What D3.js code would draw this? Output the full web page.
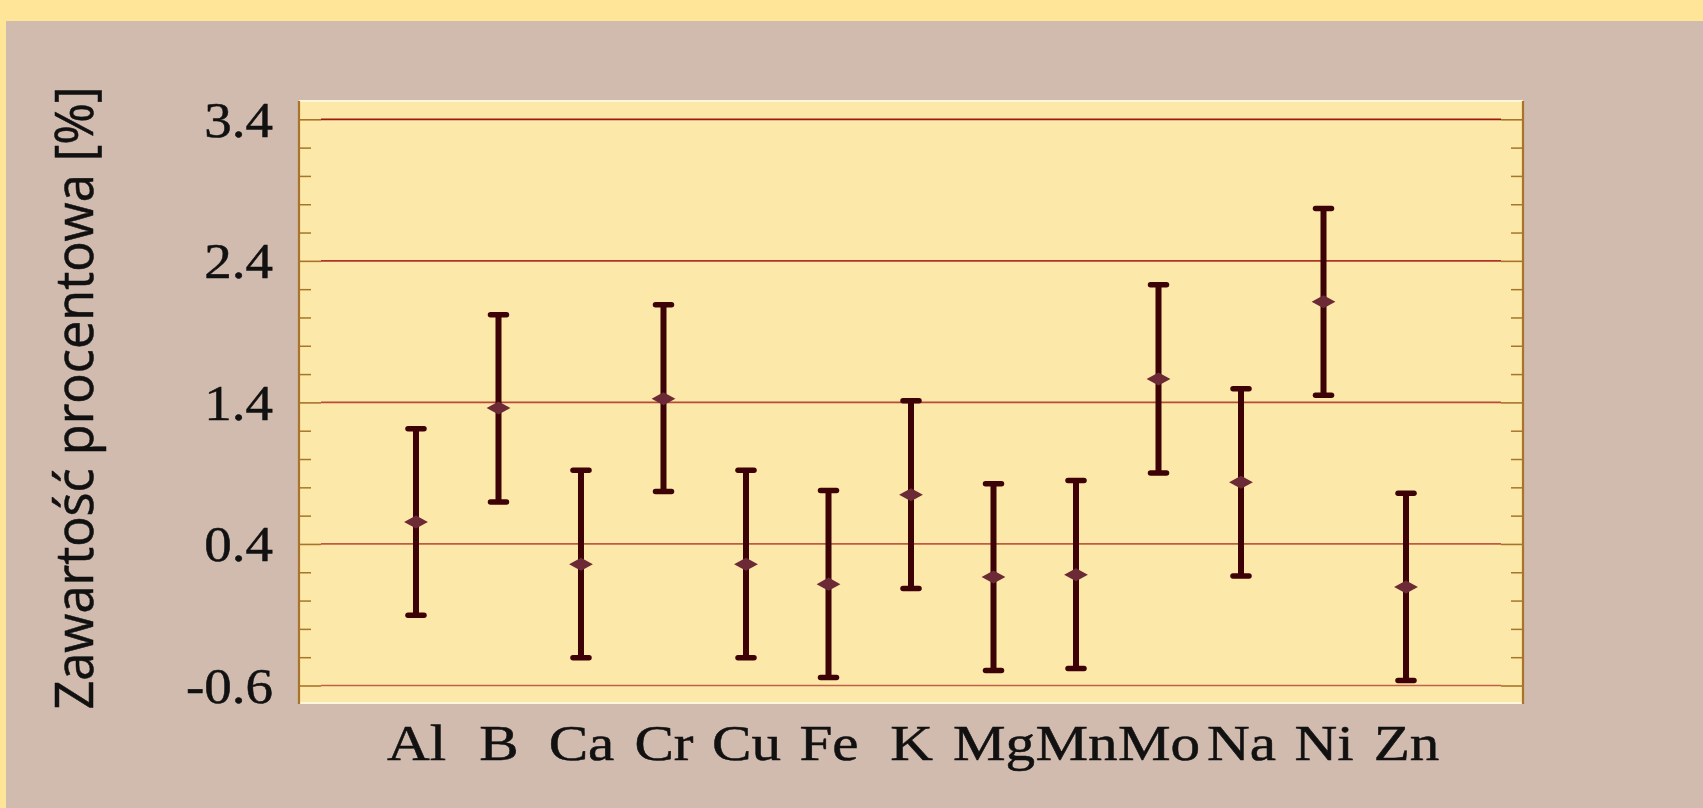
<!DOCTYPE html>
<html>
<head>
<meta charset="utf-8">
<script src="https://cdn.jsdelivr.net/npm/d3@7"></script>
<style>
  html, body { margin: 0; padding: 0; background: #D1BAAE; }
  svg { display: block; }
</style>
</head>
<body>
<svg id="chart" width="1703" height="808"></svg>
<script>
// ---- data ----
const categories = ["Al", "B", "Ca", "Cr", "Cu", "Fe", "K", "Mg", "Mn", "Mo", "Na", "Ni", "Zn"];
const means  = [0.555, 1.360, 0.257, 1.426, 0.257, 0.116, 0.747, 0.166, 0.183, 1.565, 0.836, 2.111, 0.096];
const upper  = [1.214, 2.019, 0.920, 2.089, 0.920, 0.777, 1.412, 0.825, 0.848, 2.231, 1.497, 2.769, 0.759];
const lower  = [-0.103, 0.697, -0.404, 0.770, -0.404, -0.543, 0.086, -0.494, -0.480, 0.902, 0.173, 1.450, -0.565];
const majorTicks = [-0.6, 0.4, 1.4, 2.4, 3.4];
const minorTicks = [-0.4, -0.2, 0.0, 0.2, 0.6, 0.8, 1.0, 1.2, 1.6, 1.8, 2.0, 2.2, 2.6, 2.8, 3.0, 3.2];
const yTitle = "Zawartość procentowa [%]";

// ---- layout / style ----
const W = 1703, H = 808;
const plot = { left: 299, right: 1523, top: 101, bottom: 703 };
const gridColors = ["#C0604A", "#C05A44", "#B84A3A", "#B03428", "#9C1A12"];

const svg = d3.select("#chart");

svg.append("rect").attr("x", 0).attr("y", 0).attr("width", W).attr("height", H).attr("fill", "#D1BAAE");
svg.append("rect").attr("x", 0).attr("y", 0).attr("width", W).attr("height", 21).attr("fill", "#FFE597");
svg.append("rect").attr("x", 0).attr("y", 0).attr("width", 6).attr("height", H).attr("fill", "#FFE597");

// plot background
svg.append("rect")
  .attr("x", plot.left).attr("y", plot.top)
  .attr("width", plot.right - plot.left).attr("height", plot.bottom - plot.top)
  .attr("fill", "#FCE8A8");
svg.append("line").attr("x1", plot.left).attr("x2", plot.right).attr("y1", plot.top).attr("y2", plot.top)
  .attr("stroke", "#FFF6DC").attr("stroke-width", 2);
svg.append("line").attr("x1", plot.left).attr("x2", plot.right).attr("y1", plot.bottom).attr("y2", plot.bottom)
  .attr("stroke", "#FFF6DC").attr("stroke-width", 2);

// scales
const y = d3.scaleLinear().domain([-0.6, 3.4]).range([685.5, 119.3]);
const x = d3.scalePoint().domain(categories).range([plot.left, plot.right]).padding(1.418);

// gridlines
svg.append("g").selectAll("line").data(majorTicks).join("line")
  .attr("x1", plot.left + 22).attr("x2", plot.right - 22)
  .attr("y1", d => y(d)).attr("y2", d => y(d))
  .attr("stroke", (d, i) => gridColors[i]).attr("stroke-width", 1.7);

const tickColor = "#A8742C";

// left axis minor ticks
const leftMinor = svg.append("g").attr("transform", `translate(${plot.left},0)`)
  .call(d3.axisRight(y).tickValues(minorTicks).tickSize(12).tickFormat(""));
leftMinor.select(".domain").remove();
leftMinor.selectAll("line").attr("stroke", tickColor).attr("stroke-width", 1.5);
// left axis major ticks
const leftMajor = svg.append("g").attr("transform", `translate(${plot.left},0)`)
  .call(d3.axisRight(y).tickValues(majorTicks).tickSize(22).tickFormat(""));
leftMajor.select(".domain").remove();
leftMajor.selectAll("line").attr("stroke", tickColor).attr("stroke-width", 1.6);

// right axis ticks
const rightMinor = svg.append("g").attr("transform", `translate(${plot.right},0)`)
  .call(d3.axisLeft(y).tickValues(minorTicks).tickSize(12).tickFormat(""));
rightMinor.select(".domain").remove();
rightMinor.selectAll("line").attr("stroke", tickColor).attr("stroke-width", 1.5);
const rightMajor = svg.append("g").attr("transform", `translate(${plot.right},0)`)
  .call(d3.axisLeft(y).tickValues(majorTicks).tickSize(22).tickFormat(""));
rightMajor.select(".domain").remove();
rightMajor.selectAll("line").attr("stroke", tickColor).attr("stroke-width", 1.6);

// axis lines
svg.append("line").attr("x1", plot.left).attr("x2", plot.left).attr("y1", plot.top).attr("y2", plot.bottom + 1)
  .attr("stroke", tickColor).attr("stroke-width", 2.2);
svg.append("line").attr("x1", plot.right).attr("x2", plot.right).attr("y1", plot.top).attr("y2", plot.bottom + 1)
  .attr("stroke", tickColor).attr("stroke-width", 2.2);

// y tick labels
const yLab = svg.append("g").attr("transform", `translate(273,0)`)
  .call(d3.axisLeft(y).tickValues(majorTicks).tickSize(0).tickPadding(0).tickFormat(d => d.toFixed(1)));
yLab.select(".domain").remove();
yLab.selectAll("text")
  .attr("x", 0).attr("dy", "0.34em")
  .attr("transform", "scale(1.1,1)")
  .style("font-family", "'Liberation Serif', 'Times New Roman', serif")
  .style("font-size", "50px").attr("fill", "#111")
  .attr("stroke", "#111").attr("stroke-width", 0.5);

// x labels
const xLab = svg.append("g").attr("transform", `translate(0,760)`)
  .call(d3.axisBottom(x).tickSize(0).tickPadding(0));
xLab.select(".domain").remove();
xLab.selectAll("text")
  .attr("y", 0).attr("dy", 0)
  .attr("transform", "scale(1.16,1)")
  .style("font-family", "'Liberation Serif', 'Times New Roman', serif")
  .style("font-size", "51px").attr("fill", "#111")
  .attr("stroke", "#111").attr("stroke-width", 0.5);

// y title
svg.append("text")
  .attr("transform", `translate(93,398) rotate(-90) scale(1,1.06)`)
  .attr("text-anchor", "middle")
  .style("font-family", "'Open Sans', 'Noto Sans', sans-serif")
  .style("font-size", "50.5px").attr("fill", "#111")
  .attr("stroke", "#111").attr("stroke-width", 0.5)
  .text(yTitle);

// error bars
const rows = categories.map((c, i) => ({ c, m: means[i], hi: upper[i], lo: lower[i] }));
const barColor = "#3D0206";
const eb = svg.append("g");
eb.selectAll(".v").data(rows).join("line")
  .attr("x1", d => x(d.c)).attr("x2", d => x(d.c))
  .attr("y1", d => y(d.hi)).attr("y2", d => y(d.lo))
  .attr("stroke", barColor).attr("stroke-width", 6);
eb.selectAll(".capT").data(rows).join("line")
  .attr("x1", d => x(d.c) - 8).attr("x2", d => x(d.c) + 8)
  .attr("y1", d => y(d.hi)).attr("y2", d => y(d.hi))
  .attr("stroke", barColor).attr("stroke-width", 5.5).attr("stroke-linecap", "round");
eb.selectAll(".capB").data(rows).join("line")
  .attr("x1", d => x(d.c) - 8).attr("x2", d => x(d.c) + 8)
  .attr("y1", d => y(d.lo)).attr("y2", d => y(d.lo))
  .attr("stroke", barColor).attr("stroke-width", 5.5).attr("stroke-linecap", "round");

// markers
const diamond = d3.symbol().type(d3.symbolDiamond2).size(360);
svg.append("g").selectAll("path").data(rows).join("path")
  .attr("d", diamond)
  .attr("transform", d => `translate(${x(d.c)},${y(d.m)}) scale(1,0.55)`)
  .attr("fill", "#6B2A35");
</script>
</body>
</html>
